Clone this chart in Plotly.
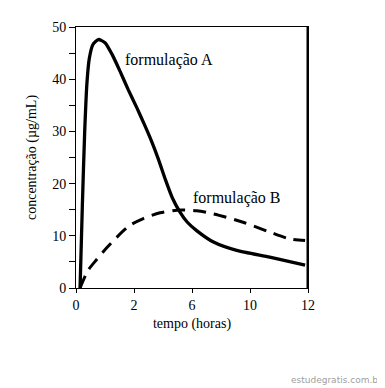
import plotly.graph_objects as go

# x positions on the (evenly spaced) axis: 0 -> 0 h, 1 -> 2 h, 2 -> 6 h, 3 -> 10 h, 4 -> 12 h
tick_pos = [0, 1, 2, 3, 4]
tick_labels = ["0", "2", "6", "10", "12"]

a_x = [0.07, 0.11, 0.15, 0.19, 0.23, 0.29, 0.385, 0.50, 0.62, 0.76, 0.90, 1.05, 1.18, 1.30, 1.42, 1.54, 1.66, 1.79, 1.92, 2.08, 2.37, 2.77, 3.34, 3.95]
a_y = [0.0, 16.0, 30.0, 39.5, 44.0, 46.6, 47.6, 47.0, 44.8, 41.5, 38.0, 34.5, 31.3, 28.2, 24.7, 20.8, 17.3, 14.6, 12.6, 11.0, 8.8, 7.2, 5.9, 4.4]

b_x = [0.07, 0.21, 0.36, 0.53, 0.70, 0.93, 1.16, 1.45, 1.74, 2.08, 2.37, 2.88, 3.34, 3.69, 3.95]
b_y = [0.0, 3.4, 5.5, 7.7, 9.7, 12.0, 13.3, 14.4, 14.9, 14.8, 14.2, 12.6, 10.7, 9.4, 9.1]

serif = "Liberation Serif, Times New Roman, serif"

# page is offset by the 8px body margin of the html page
OFF = 8
W, H = 385 - OFF, 388 - OFF
L, T = 76 - OFF, 24 - OFF
R = W - (308 - OFF)
B = H - (288 - OFF)

fig = go.Figure()
fig.add_trace(go.Scatter(x=a_x, y=a_y, mode="lines", line=dict(color="black", width=3.3, shape="spline", smoothing=0.6), showlegend=False))
fig.add_trace(go.Scatter(x=b_x, y=b_y, mode="lines", line=dict(color="black", width=3, shape="spline", smoothing=0.8, dash="13px,8px"), showlegend=False))

pw, ph = W - L - R, H - T - B
def px_to_paper(x, y):
    # x, y in page pixels of the reference picture
    return (x - OFF - L) / pw, (H - B - (y - OFF)) / ph

ax, ay = px_to_paper(123, 57)
bx, by = px_to_paper(190.7, 197)
wx, wy = px_to_paper(384, 381)

fig.update_layout(
    width=W, height=H,
    margin=dict(l=L, r=R, t=T, b=B),
    paper_bgcolor="white", plot_bgcolor="white",
    font=dict(family=serif, size=14, color="black"),
    xaxis=dict(range=[0, 4], tickvals=tick_pos, ticktext=tick_labels, showgrid=False, zeroline=False,
               showline=True, linecolor="black", linewidth=1, mirror=True, ticks="outside", ticklen=4,
               tickcolor="black", tickfont=dict(size=14),
               title=dict(text="tempo (horas)", font=dict(size=14), standoff=6)),
    yaxis=dict(range=[0, 50], tickvals=[0, 10, 20, 30, 40, 50], showgrid=False, zeroline=False,
               showline=True, linecolor="black", linewidth=1, mirror=True, ticks="outside", ticklen=6,
               tickcolor="black", tickfont=dict(size=14),
               minor=dict(tickvals=[5, 15, 25, 35, 45], ticks="outside", ticklen=6, tickcolor="black", showgrid=False),
               title=dict(text="concentração (µg/mL)", font=dict(size=14), standoff=12)),
    shapes=[dict(type="line", xref="x", yref="paper", x0=4, x1=4, y0=0, y1=1, line=dict(color="black", width=3))],
    annotations=[
        dict(text="formulação A", x=ax, y=ay, xref="paper", yref="paper", showarrow=False,
             xanchor="left", yanchor="middle", font=dict(family=serif, size=16, color="black")),
        dict(text="formulação B", x=bx, y=by, xref="paper", yref="paper", showarrow=False,
             xanchor="left", yanchor="middle", font=dict(family=serif, size=16, color="black")),
        dict(text="estudegratis.com.br", x=wx, y=wy, xref="paper", yref="paper", showarrow=False,
             xanchor="right", yanchor="middle", font=dict(family="DejaVu Sans, sans-serif", size=9, color="#a0a0a0")),
    ],
)

fig.write_html("out.html")
